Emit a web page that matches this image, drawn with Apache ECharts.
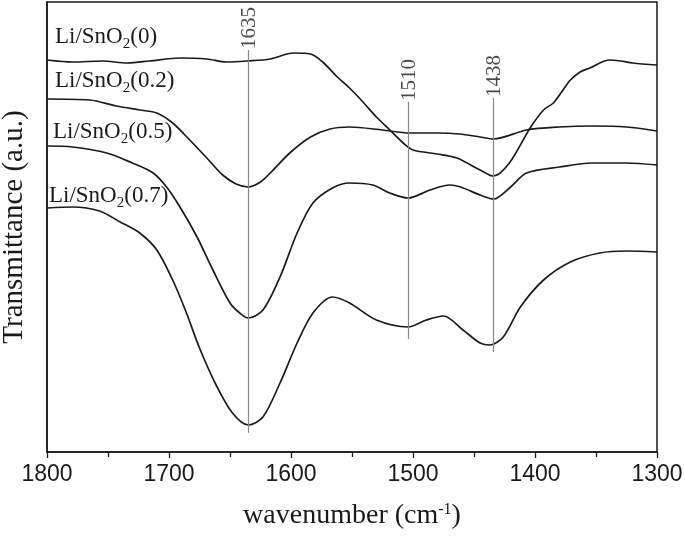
<!DOCTYPE html>
<html>
<head>
<meta charset="utf-8">
<script src="https://cdn.jsdelivr.net/npm/echarts@6/dist/echarts.min.js"></script>
<style>
  html, body { margin: 0; padding: 0; background: #fff; }
  #chart { width: 685px; height: 537px; }
</style>
</head>
<body>
<div id="chart"></div>
<script>
// ========== data ==========
// [wavenumber, transmittance (a.u.)]
const sample0 = [[1800,392],[1779,390],[1755,391],[1734,389],[1716,391],[1691,394],[1669,393],[1653,390],[1636,391],[1617,393],[1598,399],[1584,398],[1574,390],[1562,375],[1552,364],[1541,350],[1530,335],[1519,322],[1508,309],[1500,302],[1480,298],[1464,294],[1445,282],[1434,276],[1421,289],[1404,324],[1393,342],[1385,349],[1377,362],[1371,372],[1363,380],[1355,384],[1339,392],[1330,391],[1320,389],[1300,387]];
const sample02 = [[1800,353],[1765,352],[1743,346],[1724,342],[1710,339],[1697,329],[1683,312],[1669,294],[1656,277],[1645,268],[1635,265],[1625,270],[1617,279],[1601,299],[1584,315],[1568,323],[1552,325],[1525,322],[1503,319],[1480,319],[1462,318],[1445,315],[1434,313],[1407,322],[1380,325],[1353,326],[1325,325],[1300,321]];
const sample05 = [[1800,306],[1779,305],[1751,299],[1730,289],[1713,279],[1702,265],[1691,245],[1677,215],[1664,182],[1650,149],[1642,139],[1635,134],[1623,142],[1609,175],[1595,219],[1582,249],[1566,264],[1552,269],[1533,267],[1519,259],[1504,254],[1486,262],[1470,267],[1461,265],[1445,257],[1434,253],[1420,265],[1407,279],[1380,285],[1353,289],[1325,289],[1300,287]];
const sample07 = [[1800,244],[1779,245],[1757,241],[1740,230],[1724,219],[1710,202],[1697,172],[1686,140],[1675,104],[1661,66],[1648,39],[1635,27],[1623,35],[1609,69],[1595,109],[1582,139],[1566,155],[1552,149],[1530,132],[1504,125],[1489,132],[1475,136],[1459,122],[1445,109],[1437,107],[1426,115],[1412,145],[1393,172],[1371,190],[1347,199],[1325,201],[1300,200]];

const sampleNames = ['0', '0.2', '0.5', '0.7'];

// peak marker lines
const peakLabels = ['1635', '1510', '1438'];
const peakPos = [1635, 1504, 1434];
const peakTop = [402, 350, 354];
const peakBottom = [19, 113, 100];

const xTicks = [1800, 1700, 1600, 1500, 1400, 1300];

// ========== style ==========
const SERIF = "'Liberation Serif', 'Times New Roman', serif";
const SANS = "'Liberation Sans', Arial, sans-serif";
const INK = '#1a1a1a';

// label positions (px) for the sample names
const labelX = [55, 55, 53, 49];
const labelY = [37, 81, 132, 196];

const chart = echarts.init(document.getElementById('chart'));

function curveSeries(data) {
    return {
        type: 'line',
        data: data,
        smooth: 0.3,
        showSymbol: false,
        symbol: 'none',
        silent: true,
        lineStyle: { color: INK, width: 1.7 }
    };
}

function sampleLabel(name, i) {
    return {
        type: 'text',
        x: labelX[i],
        y: labelY[i],
        silent: true,
        style: {
            text: '{a|Li/SnO}{s|2}{a|(' + name + ')}',
            verticalAlign: 'middle',
            fill: INK,
            rich: {
                a: { fontFamily: SERIF, fontSize: 23, fill: INK },
                s: { fontFamily: SERIF, fontSize: 15, fill: INK, padding: [14, 0, 0, 0] }
            }
        }
    };
}

const option = {
    animation: false,
    backgroundColor: '#fff',
    grid: {
        left: 47, right: 28, top: 2, bottom: 85,
        outerBoundsMode: 'none',
        containLabel: false,
        show: true, borderColor: INK, borderWidth: 1.5
    },
    xAxis: {
        type: 'value',
        min: 1300, max: 1800, interval: 100,
        inverse: true,
        name: 'wavenumber (cm{sup|-1})',
        nameLocation: 'middle',
        nameGap: 50,
        nameTextStyle: {
            fontFamily: SERIF, fontSize: 28, color: INK,
            rich: { sup: { fontFamily: SERIF, fontSize: 16, color: INK, padding: [0, 0, 12, 0] } }
        },
        axisLine: { lineStyle: { color: INK, width: 1.5 } },
        axisTick: { show: true, inside: false, length: 6, lineStyle: { color: INK, width: 1.3 } },
        minorTick: { show: true, splitNumber: 2, length: 5, lineStyle: { color: INK, width: 1.3 } },
        axisLabel: {
            fontFamily: SANS, fontSize: 23, color: INK, margin: 11,
            formatter: v => (xTicks.indexOf(v) >= 0 ? String(v) : '')
        },
        splitLine: { show: false }
    },
    yAxis: {
        type: 'value',
        min: 0, max: 450,
        name: 'Transmittance (a.u.)',
        nameLocation: 'middle',
        nameGap: 18,
        nameTextStyle: { fontFamily: SERIF, fontSize: 29, color: INK },
        axisLine: { show: true, lineStyle: { color: INK, width: 1.5 } },
        axisTick: { show: false },
        axisLabel: { show: false },
        splitLine: { show: false }
    },
    series: [
        curveSeries(sample0),
        curveSeries(sample02),
        curveSeries(sample05),
        curveSeries(sample07),
        {
            type: 'scatter',
            data: peakPos.map((x, i) => ({ value: [x, peakTop[i]], name: peakLabels[i] })),
            symbolSize: 0,
            silent: true,
            label: {
                show: true,
                position: 'inside',
                formatter: p => p.name,
                rotate: 90,
                align: 'left',
                verticalAlign: 'middle',
                offset: [1, 1],
                fontFamily: SERIF, fontSize: 21, color: INK
            },
            markLine: {
                silent: true,
                symbol: 'none',
                label: { show: false },
                lineStyle: { color: '#888', width: 1.2, type: 'solid' },
                data: peakPos.map((x, i) => [{ coord: [x, peakBottom[i]] }, { coord: [x, peakTop[i]] }])
            }
        }
    ],
    graphic: sampleNames.map(sampleLabel)
};

chart.setOption(option);
</script>
</body>
</html>
